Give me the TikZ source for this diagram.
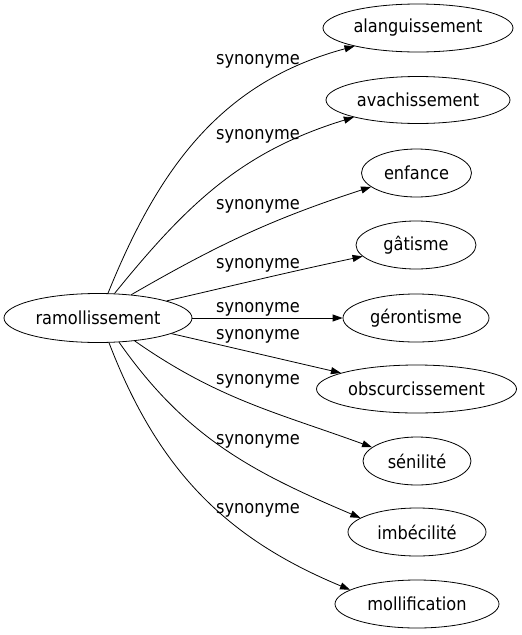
\documentclass[tikz,border=0pt]{standalone}
\usepackage{fontspec}
\setmainfont{DejaVu Sans Condensed}
\usetikzlibrary{shapes.geometric, arrows.meta}
\begin{document}
\begin{tikzpicture}[x=1pt,y=1pt,
  word/.style={ellipse, draw, line width=0.8pt, inner sep=0pt, minimum height=48pt, font=\fontsize{18}{21}\selectfont},
  lbl/.style={inner sep=0pt, anchor=base, font=\fontsize{18}{21}\selectfont},
  syn/.style={-{Triangle[length=10pt,width=7pt]}, line width=0.8pt}]
\useasboundingbox (0,0) rectangle (522,-635);
\node[word, minimum width=188pt, minimum height=49pt] (c) at (98,-318) {ramollissement};
\node[word, minimum width=190pt] (t1) at (418,-28) {alanguissement};
\node[word, minimum width=184pt, minimum height=47pt] (t2) at (418,-100) {avachissement};
\node[word, minimum width=110pt] (t3) at (416.5,-173) {enfance};
\node[word, minimum width=120pt] (t4) at (416,-245) {gâtisme};
\node[word, minimum width=146pt] (t5) at (416,-318) {gérontisme};
\node[word, minimum width=200pt] (t6) at (416.5,-389) {obscurcissement};
\node[word, minimum width=108pt] (t7) at (417,-461) {sénilité};
\node[word, minimum width=138pt] (t8) at (417,-532) {imbécilité};
\node[word, minimum width=164pt] (t9) at (417,-604) {mollification};
\draw[syn] (c.68) to[out=68,in=195] (t1.196);
\draw[syn] (c.56) to[out=51,in=197] (t2.195);
\draw[syn] (c.35) to[out=30,in=198] (t3.197);
\draw[syn] (c.14) to[out=13,in=192] (t4.192);
\draw[syn] (c) -- (t5);
\draw[syn] (c.-12) to[out=-13,in=167] (t6.168);
\draw[syn] (c.-32) to[out=-35,in=160] (t7.163);
\draw[syn] (c.-49) to[out=-55,in=157] (t8.166);
\draw[syn] (c.-66) to[out=-69,in=157.5] (t9.168);
\node[lbl] (l1) at (258,-64) {synonyme};
\node[lbl] (l2) at (258,-139) {synonyme};
\node[lbl] (l3) at (258,-209) {synonyme};
\node[lbl] (l4) at (258,-268) {synonyme};
\node[lbl] (l5) at (258,-312) {synonyme};
\node[lbl] (l6) at (258,-339) {synonyme};
\node[lbl] (l7) at (258,-384) {synonyme};
\node[lbl] (l8) at (258,-444) {synonyme};
\node[lbl] (l9) at (258,-513) {synonyme};
\end{tikzpicture}
\end{document}
